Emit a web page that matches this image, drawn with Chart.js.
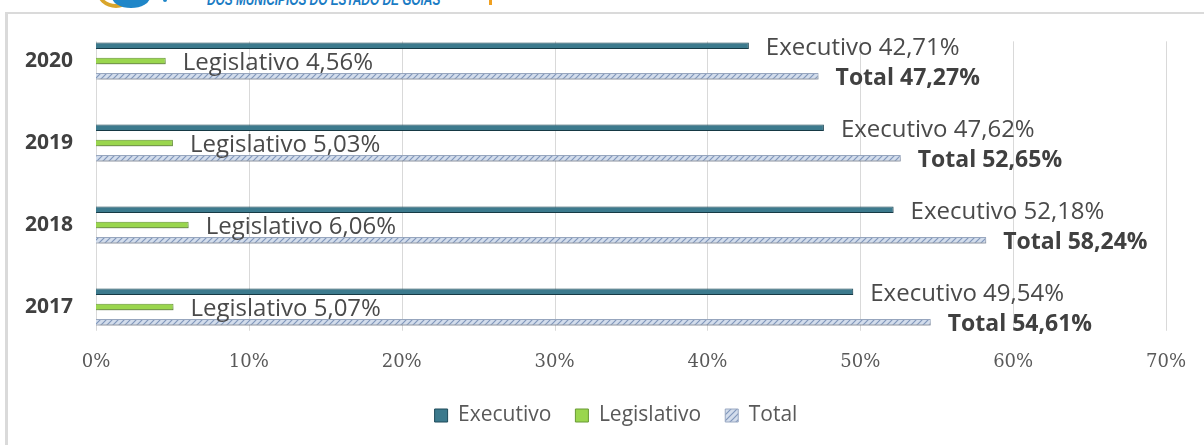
<!DOCTYPE html>
<html>
<head>
<meta charset="utf-8">
<script src="https://cdn.jsdelivr.net/npm/chart.js@4.4.1/dist/chart.umd.min.js"></script>
<style>
  html, body { margin: 0; padding: 0; background: #fff; }
  #wrap { position: relative; width: 1204px; height: 445px; overflow: hidden; }
  #frame { position: absolute; left: 5px; top: 12px; width: 1300px; height: 500px;
           border-left: 3px solid #dadada; border-top: 2px solid #dadada; }
  #header { position: absolute; left: 207px; top: -9px; font: italic bold 16px "Liberation Sans", sans-serif;
            color: #1b7cc4; white-space: nowrap; transform: scaleX(0.74); transform-origin: left top; }
  #gold { position: absolute; left: 96px; top: -30px; width: 40px; height: 38px; border-radius: 50%;
          border-bottom: 4px solid #d9a52b; border-left: 3px solid #d9a52b; box-sizing: border-box; }
  #blue { position: absolute; left: 112px; top: -14px; width: 38px; height: 22px; border-radius: 50%; background: #1f86c8; }
  #dot { position: absolute; left: 163px; top: -2px; width: 4px; height: 4px; border-radius: 50%; background: #1f86c8; }
  #mark { position: absolute; left: 489px; top: -2px; width: 3px; height: 7px; background: #f0a020; }
  #chartBox { position: absolute; left: 0; top: 0; width: 1204px; height: 445px; }
</style>
</head>
<body>
<div id="wrap">
  <div id="frame"></div>
  <div id="gold"></div>
  <div id="blue"></div>
  <div id="dot"></div>
  <div id="header">DOS MUNICÍPIOS DO ESTADO DE GOIÁS</div>
  <div id="mark"></div>
  <div id="chartBox"><canvas id="despesaChart"></canvas></div>
</div>
<script>
const years = ['2020', '2019', '2018', '2017']
const executivo = [42.71, 47.62, 52.18, 49.54]
const legislativo = [4.56, 5.03, 6.06, 5.07]
const total = [47.27, 52.65, 58.24, 54.61]
const xTicks = [0, 10, 20, 30, 40, 50, 60, 70]

const fmt = v => v.toFixed(2).replace('.', ',') + '%'

// hatched fill for the Total series
function hatch() {
  const c = document.createElement('canvas')
  c.width = 6; c.height = 6
  const g = c.getContext('2d')
  g.fillStyle = '#d3ddec'
  g.fillRect(0, 0, 6, 6)
  g.strokeStyle = '#8197bb'
  g.lineWidth = 1.2
  g.beginPath()
  g.moveTo(0, 6); g.lineTo(6, 0)
  g.moveTo(-1, 1); g.lineTo(1, -1)
  g.moveTo(5, 7); g.lineTo(7, 5)
  g.stroke()
  return g.createPattern(c, 'repeat')
}
const totalFill = hatch()

const barDecor = {
  id: 'barDecor',
  afterLayout(chart) {
    // legend sits a bit right of centre in the original
    chart.legend.left += 33
    chart.legend.right += 33
  },
  beforeDatasetsDraw(chart) {
    const { ctx, scales: { x, y } } = chart
    const band = y.getPixelForValue(1) - y.getPixelForValue(0)
    const top = y.getPixelForValue(0) - band * 0.24
    const bottom = y.getPixelForValue(years.length - 1) + band * 0.29
    ctx.save()
    ctx.strokeStyle = '#d9d9d9'
    ctx.lineWidth = 1
    xTicks.forEach(t => {
      const px = Math.round(x.getPixelForValue(t)) + 0.5
      ctx.beginPath()
      ctx.moveTo(px, top)
      ctx.lineTo(px, bottom)
      ctx.stroke()
    })
    ctx.restore()
    ctx.save()
    ctx.shadowColor = 'rgba(0,0,0,0.35)'
    ctx.shadowBlur = 4
    ctx.shadowOffsetY = 3
    ctx.shadowOffsetX = 1
  },
  afterDatasetsDraw(chart) {
    const { ctx } = chart
    ctx.restore()
    ctx.save()
    ctx.textBaseline = 'middle'
    ctx.textAlign = 'left'
    chart.data.datasets.forEach((ds, i) => {
      chart.getDatasetMeta(i).data.forEach((bar, j) => {
        const v = ds.data[j]
        const tx = bar.x + 17
        const ty = bar.y + 2.5
        if (ds.label === 'Total') {
          ctx.font = 'bold 23px "Open Sans"'
          ctx.fillStyle = '#404040'
          ctx.fillText('Total ' + fmt(v), tx, ty)
        } else {
          ctx.font = '24px "Open Sans"'
          ctx.fillStyle = '#4a4a4a'
          ctx.fillText(ds.label + ' ' + fmt(v), tx, ty)
        }
      })
    })
    ctx.restore()
  }
}

new Chart(document.getElementById('despesaChart'), {
  type: 'bar',
  data: {
    labels: years,
    datasets: [
      { label: 'Executivo', data: executivo, backgroundColor: '#3c7a8d', borderColor: '#1e4b5a', borderWidth: 1 },
      { label: 'Legislativo', data: legislativo, backgroundColor: '#9ad64e', borderColor: '#699a34', borderWidth: 1 },
      { label: 'Total', data: total, backgroundColor: totalFill, borderColor: '#9aa9c2', borderWidth: 1 }
    ]
  },
  options: {
    indexAxis: 'y',
    responsive: true,
    maintainAspectRatio: false,
    animation: false,
    categoryPercentage: 0.56,
    barPercentage: 0.42,
    layout: { padding: { top: 20, right: 38, bottom: 9, left: 0 } },
    plugins: {
      tooltip: { enabled: false },
      legend: {
        position: 'bottom',
        labels: {
          font: { family: 'Open Sans', size: 21 },
          color: '#595959',
          boxWidth: 13,
          boxHeight: 13,
          padding: 24
        }
      }
    },
    scales: {
      x: {
        min: 0,
        max: 70,
        grid: { display: false },
        border: { display: false },
        afterFit: s => { s.height = 33 },
        ticks: {
          stepSize: 10,
          padding: -4,
          color: '#595959',
          font: { family: 'DejaVu Serif', size: 18 },
          callback: v => v + '%'
        }
      },
      y: {
        grid: { display: false, drawTicks: false },
        border: { display: false },
        afterFit: s => { s.width = 96; s.paddingTop = 0; s.paddingBottom = 0 },
        ticks: {
          padding: 23,
          color: '#404040',
          font: { family: 'Open Sans', size: 21, weight: 'bold' }
        }
      }
    }
  },
  plugins: [barDecor]
})
</script>
</body>
</html>
